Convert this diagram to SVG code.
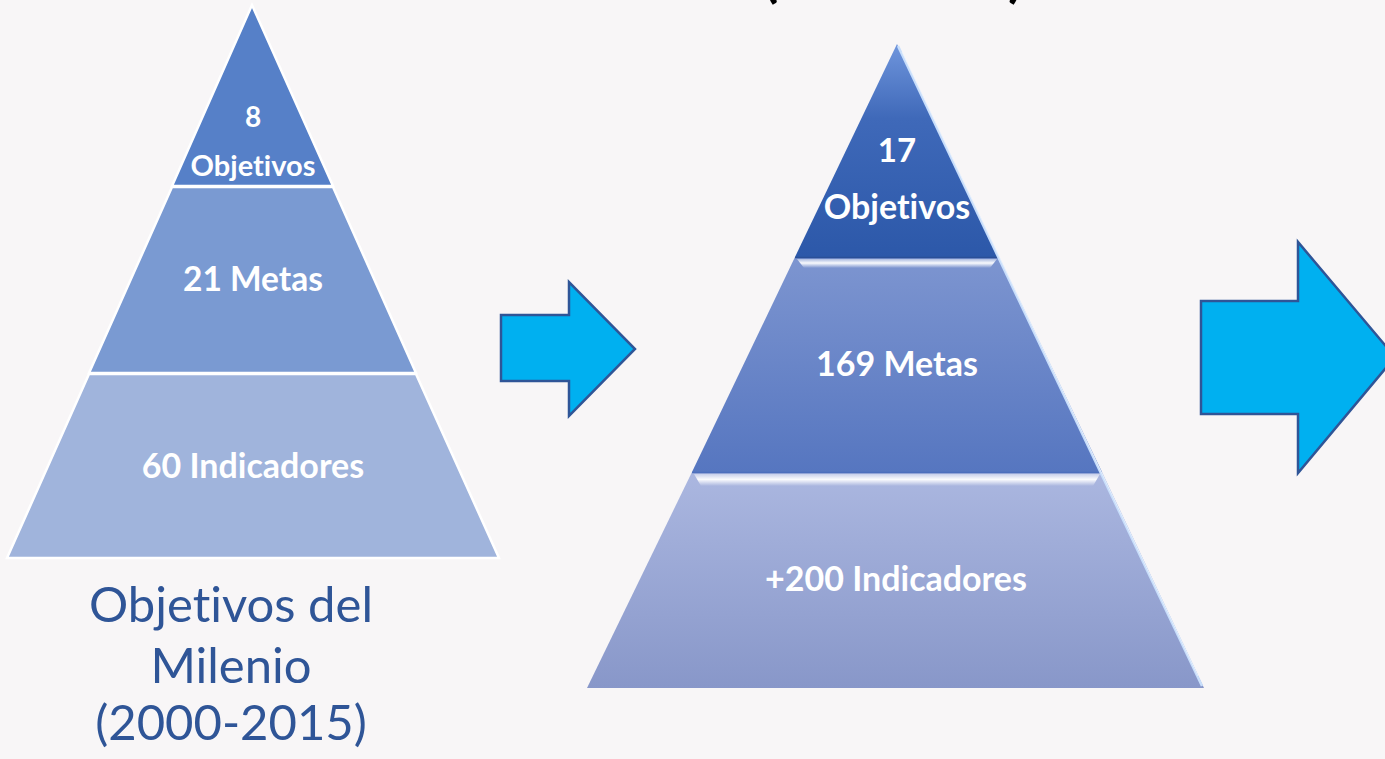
<svg xmlns="http://www.w3.org/2000/svg" width="1385" height="759" viewBox="0 0 1385 759">
<style>
.lbl{font-family:Lato,"Open Sans","Liberation Sans",sans-serif;font-weight:700;fill:#ffffff;text-anchor:middle;font-variant-ligatures:none}
.cap{font-family:Lato,"Open Sans","Liberation Sans",sans-serif;font-weight:400;fill:#2F5597;text-anchor:middle;font-size:49px;font-variant-ligatures:none}
.title{font-family:Lato,"Liberation Sans",sans-serif;font-weight:700;fill:#000000;font-size:56px}
.arrow{fill:#00B0F0;stroke:#2F5597;stroke-width:2.5;stroke-linejoin:miter}
.lseg{stroke:#ffffff;stroke-width:2.5;stroke-linejoin:miter}
</style>
<defs>
<linearGradient id="gTop" x1="0" y1="0" x2="0" y2="1">
<stop offset="0" stop-color="#6f95dc"/><stop offset="0.35" stop-color="#3f69b9"/><stop offset="1" stop-color="#2c58a9"/>
</linearGradient>
<linearGradient id="gMid" x1="0" y1="0" x2="0" y2="1">
<stop offset="0" stop-color="#7d95d0"/><stop offset="1" stop-color="#5676c0"/>
</linearGradient>
<linearGradient id="gBot" x1="0" y1="0" x2="0" y2="1">
<stop offset="0" stop-color="#abb7e0"/><stop offset="1" stop-color="#8897c9"/>
</linearGradient>
<linearGradient id="gBevel" x1="0" y1="0" x2="0" y2="1">
<stop offset="0" stop-color="#ffffff" stop-opacity="0.35"/><stop offset="0.45" stop-color="#ffffff" stop-opacity="0.95"/><stop offset="1" stop-color="#ffffff" stop-opacity="0"/>
</linearGradient>
</defs>
<rect width="1385" height="759" fill="#F8F6F7"/>

<g id="title-fragment">
<text class="title" x="763" y="-4">(</text>
<text class="title" x="1008" y="-4">)</text>
</g>

<g id="mdg-objetivos">
<polygon class="lseg" points="252,5 172,186 333,186" fill="#5680C8"/>
<text class="lbl" x="253" y="127" font-size="28">8</text>
<text class="lbl" x="253" y="176" font-size="29">Objetivos</text>
</g>
<g id="mdg-metas">
<polygon class="lseg" points="172,187 333,187 416,373 89,373" fill="#7A9AD2"/>
<text class="lbl" x="253" y="291" font-size="33.5">21 Metas</text>
</g>
<g id="mdg-indicadores">
<polygon class="lseg" points="89,374 416,374 499,558 7,558" fill="#A0B4DC"/>
<text class="lbl" x="253" y="478" font-size="34">60 Indicadores</text>
</g>
<g id="mdg-caption">
<text class="cap" x="231" y="622">Objetivos del</text>
<text class="cap" x="231" y="683">Milenio</text>
<text class="cap" x="231" y="740">(2000-2015)</text>
</g>

<g id="ods-objetivos">
<polygon points="897,44 999,257 795,257" fill="url(#gTop)"/>
<text class="lbl" x="897" y="162" font-size="33">17</text>
<text class="lbl" x="897" y="219" font-size="34">Objetivos</text>
</g>
<g id="ods-metas">
<polygon points="795,257 999,257 1102,472 692,472" fill="url(#gMid)"/>
<polygon points="797,259 997,259 990,268 804,268" fill="url(#gBevel)"/>
<line x1="795" y1="257.5" x2="999" y2="257.5" stroke="#2a4f98" stroke-width="1.5"/>
<text class="lbl" x="897" y="376" font-size="34">169 Metas</text>
</g>
<g id="ods-indicadores">
<polygon points="692,472 1102,472 1204,688 587,688" fill="url(#gBot)"/>
<polygon points="694,474 1100,474 1093,486 701,486" fill="url(#gBevel)"/>
<line x1="692" y1="472.5" x2="1102" y2="472.5" stroke="#4d6fbc" stroke-width="1.5"/>
<text class="lbl" x="896" y="591" font-size="34">+200 Indicadores</text>
</g>
<g id="ods-edge">
<line x1="898" y1="46" x2="1202" y2="686" stroke="#c8defb" stroke-width="2.5"/>
<line x1="902" y1="52" x2="1198" y2="676" stroke="#ffffff" stroke-opacity="0.5" stroke-width="1"/>
</g>

<g id="connectors">
<polygon class="arrow" points="501,315 569,315 569,282 635,349 569,416 569,381 501,381"/>
<polygon class="arrow" points="1201,301 1298,301 1298,242 1395,357 1298,473 1298,414 1201,414"/>
</g>
</svg>
